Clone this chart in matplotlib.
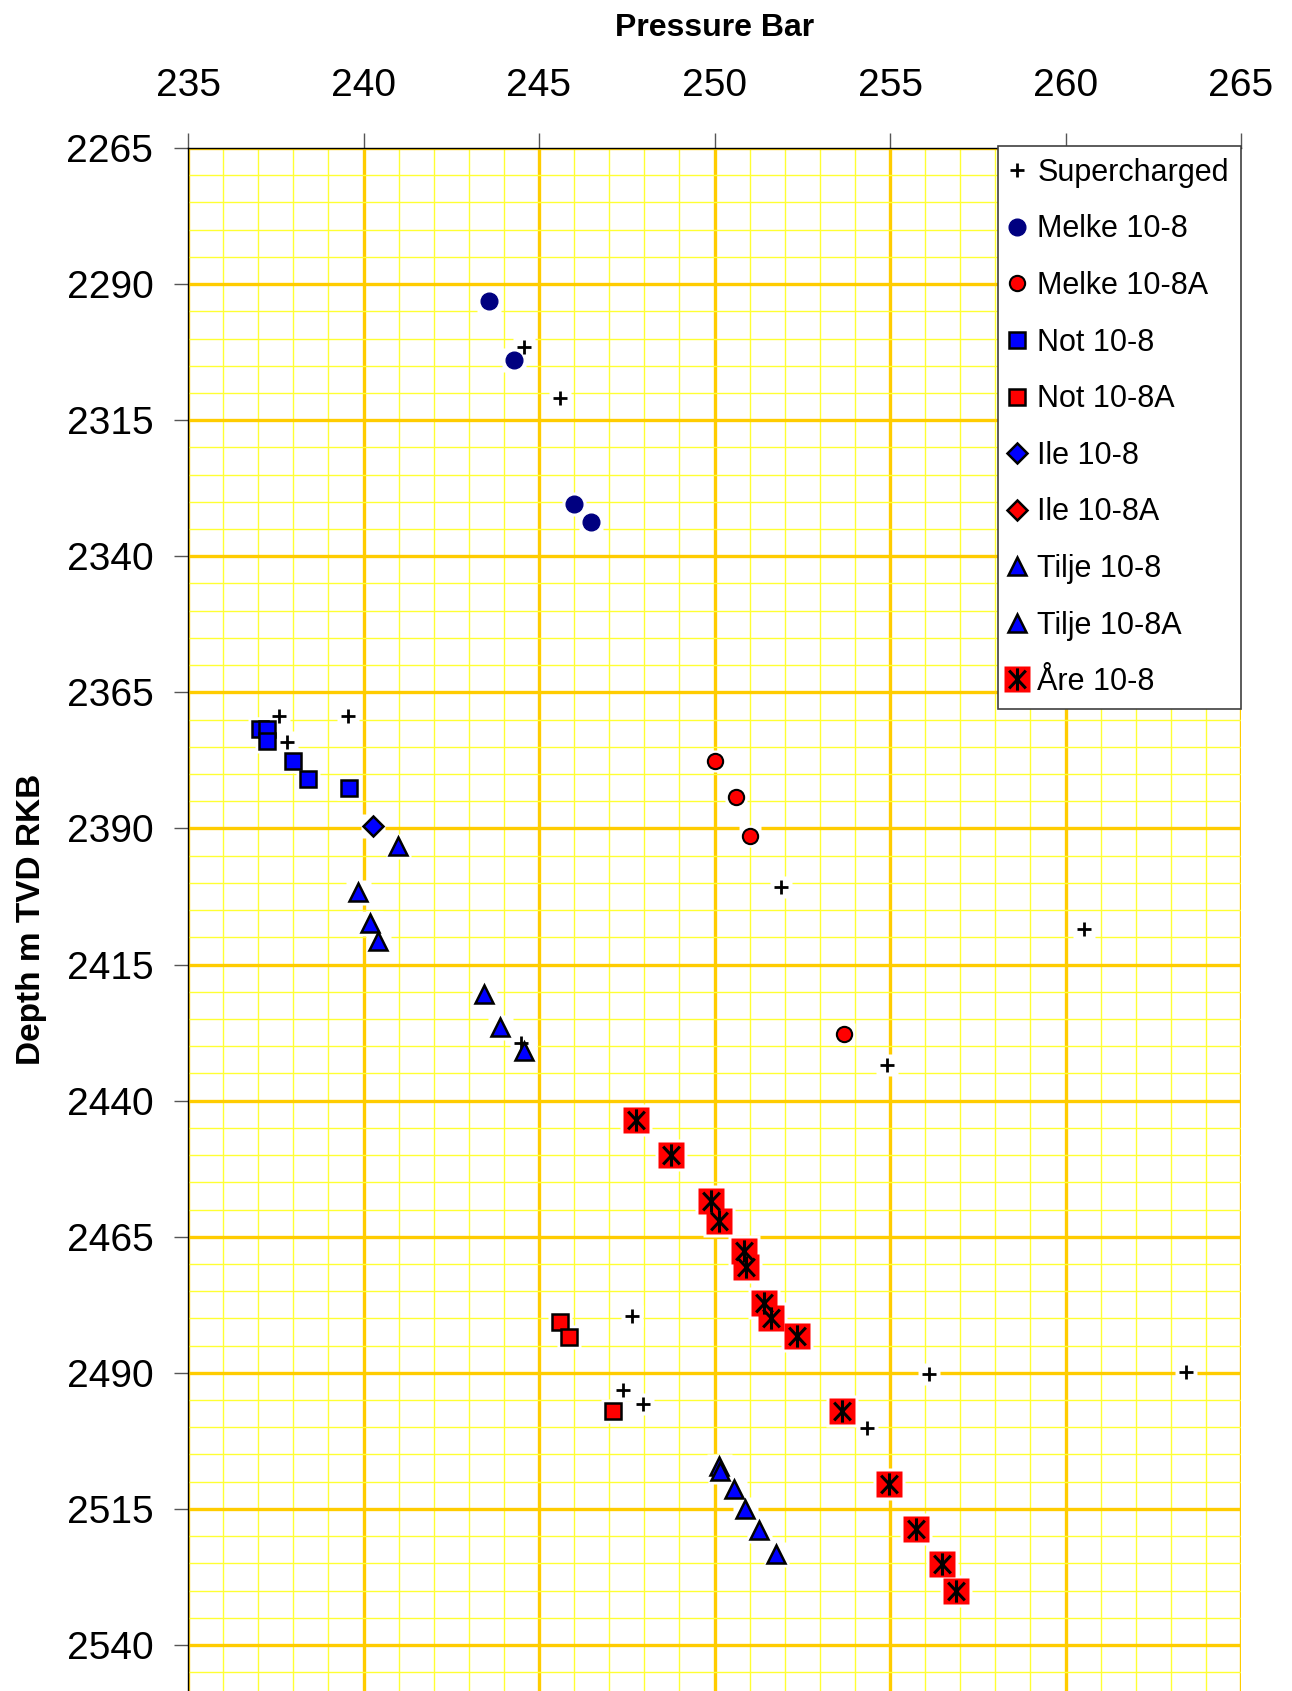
import matplotlib
matplotlib.use("Agg")
import matplotlib.pyplot as plt
from matplotlib.path import Path
from matplotlib.ticker import MultipleLocator
import numpy as np

plt.rcParams["font.family"] = ["Liberation Sans", "DejaVu Sans"]

# Pressure (bar) / depth (m TVD RKB) readings per formation and well
super_p = [244.57, 245.59, 237.58, 239.55, 237.83, 251.89, 260.53, 244.49,
           254.92, 247.64, 256.10, 263.44, 247.40, 247.95, 254.35]
super_d = [2301.6, 2311.0, 2369.3, 2369.3, 2374.2, 2400.8, 2408.4, 2429.5,
           2433.5, 2479.6, 2490.3, 2489.8, 2493.2, 2495.8, 2500.1]

melke_p = [243.58, 244.29, 246.01, 246.48]
melke_d = [2293.1, 2304.0, 2330.4, 2333.7]

melke_a_p = [250.02, 250.60, 251.00, 253.70]
melke_a_d = [2377.7, 2384.2, 2391.3, 2427.7]

not_p = [237.04, 237.24, 237.24, 238.00, 238.42, 239.60]
not_d = [2371.7, 2371.7, 2373.9, 2377.7, 2381.0, 2382.6]

not_a_p = [245.60, 245.85, 247.11]
not_a_d = [2480.6, 2483.4, 2497.1]

ile_p = [240.27]
ile_d = [2389.5]

ile_a_p = []
ile_a_d = []

tilje_p = [240.97, 239.85, 240.18, 240.42, 243.42, 243.88, 244.58]
tilje_d = [2393.3, 2401.6, 2407.4, 2410.7, 2420.4, 2426.4, 2430.9]

tilje_a_p = [250.12, 250.17, 250.55, 250.88, 251.28, 251.76]
tilje_a_d = [2507.2, 2508.0, 2511.3, 2515.0, 2518.8, 2523.2]

are_p = [247.75, 248.77, 249.89, 250.14, 250.85, 250.91, 251.40, 251.62,
         252.34, 253.62, 254.96, 255.75, 256.48, 256.88]
are_d = [2443.5, 2450.0, 2458.4, 2462.2, 2467.6, 2470.6, 2477.2, 2480.0,
         2483.3, 2497.0, 2510.4, 2518.7, 2525.1, 2530.0]

x_ticks = np.arange(235, 266, 5)
y_ticks = np.arange(2265, 2541, 25)

# asterisk: vertical bar plus an X
star = Path(
    [(0, -1), (0, 1), (-0.75, -0.8), (0.75, 0.8), (-0.75, 0.8), (0.75, -0.8)],
    [Path.MOVETO, Path.LINETO] * 3,
)

W, H = 1292, 1691
fig = plt.figure(figsize=(W / 100, H / 100), dpi=100)
ax = fig.add_axes([188 / W, 0, (1241 - 188) / W, 1 - 148 / H])

ax.set_xlim(235, 265)
ax.set_ylim(2548.45, 2265)
ax.set_xticks(x_ticks)
ax.set_yticks(y_ticks)
ax.xaxis.set_minor_locator(MultipleLocator(1))
ax.yaxis.set_minor_locator(MultipleLocator(5))
ax.set_axisbelow(True)
ax.grid(which="minor", color="#FFFF33", lw=1.0)
ax.grid(which="major", color="#FFCC00", lw=2.4)

ax.xaxis.tick_top()
ax.xaxis.set_label_position("top")
ax.tick_params(which="minor", length=0)
ax.tick_params(axis="x", which="major", length=11, width=1, color="#555555",
               pad=20.5, labelsize=28)
ax.tick_params(axis="y", which="major", length=10, width=1, color="#555555",
               pad=15, labelsize=28)
for s in ("right", "bottom"):
    ax.spines[s].set_visible(False)
for s in ("top", "left"):
    ax.spines[s].set_color("black")
    ax.spines[s].set_linewidth(1.0)

ax.set_xlabel("Pressure Bar", fontsize=23, fontweight="bold", labelpad=23)
ax.set_ylabel("Depth m TVD RKB", fontsize=24, fontweight="bold", labelpad=14)

series = [
    (super_p, super_d, dict(marker="+", ms=10, mew=2, color="black"), 16),
    (melke_p, melke_d, dict(marker="o", ms=12, mfc="#000080", mec="#000080", mew=1), 17),
    (melke_a_p, melke_a_d, dict(marker="o", ms=11, mfc="#FF0000", mec="black", mew=1.5), 16),
    (not_p, not_d, dict(marker="s", ms=12, mfc="#0000FF", mec="black", mew=1.8), 17),
    (not_a_p, not_a_d, dict(marker="s", ms=12, mfc="#FF0000", mec="black", mew=1.8), 17),
    (ile_p, ile_d, dict(marker="D", ms=10, mfc="#0000FF", mec="black", mew=1.8), 17),
    (ile_a_p, ile_a_d, dict(marker="D", ms=10, mfc="#FF0000", mec="black", mew=1.8), 17),
    (tilje_p, tilje_d, dict(marker="^", ms=13, mfc="#0000FF", mec="black", mew=1.8), 18),
    (tilje_a_p, tilje_a_d, dict(marker="^", ms=13, mfc="#0000FF", mec="black", mew=1.8), 18),
]
labels = ["Supercharged", "Melke 10-8", "Melke 10-8A", "Not 10-8", "Not 10-8A",
          "Ile 10-8", "Ile 10-8A", "Tilje 10-8", "Tilje 10-8A", "Åre 10-8"]

handles = []
z = 3
for xs, ys, style, halo in series:
    ax.plot(xs, ys, ls="none", marker="s", ms=halo, mfc="white", mec="none",
            zorder=2.5)
    h, = ax.plot(xs, ys, ls="none", zorder=z, **style)
    handles.append(h)
    z += 0.1

ax.plot(are_p, are_d, ls="none", marker="s", ms=23, mfc="white", mec="none", zorder=2.5)
sq, = ax.plot(are_p, are_d, ls="none", marker="s", ms=19, mfc="#FF0000",
              mec="none", zorder=z)
st, = ax.plot(are_p, are_d, ls="none", marker=star, ms=16, mfc="none",
              mec="black", mew=2.2, zorder=z + 0.05)
handles.append((sq, st))

leg = ax.legend(handles, labels, loc="upper right", bbox_to_anchor=(1.0, 1.0015),
                borderaxespad=0, fontsize=22, fancybox=False, framealpha=1,
                edgecolor="#404040", borderpad=0.4, labelspacing=0.87,
                handlelength=0.45, handletextpad=0.45)
leg.get_frame().set_linewidth(1.2)
leg.set_zorder(10)

fig.savefig("out.png", dpi=100)
